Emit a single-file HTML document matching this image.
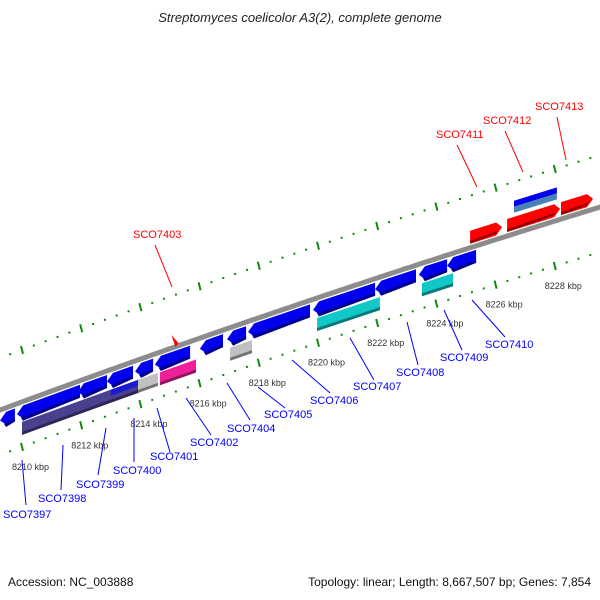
<!DOCTYPE html>
<html><head><meta charset="utf-8"><style>
body{margin:0;background:#fff}
svg{display:block;font-family:"Liberation Sans","DejaVu Sans",sans-serif}
</style></head><body>
<svg id="c" width="600" height="600" viewBox="0 0 600 600" xmlns="http://www.w3.org/2000/svg">
<text x="300" y="22" text-anchor="middle" font-size="13" font-style="italic" fill="#222">Streptomyces coelicolor A3(2), complete genome</text>
<text x="8" y="586" font-size="12" fill="#111">Accession: NC_003888</text>
<text x="591" y="586" text-anchor="end" font-size="12" fill="#111">Topology: linear; Length: 8,667,507 bp; Genes: 7,854</text>
</svg>
<script>
// gene data (kbp)
const geneStart=[8209.26,8209.83,8211.89,8212.87,8213.82,8214.49,8216.01,8216.93,8217.64,8219.83,8221.93,8223.41,8224.36,
 8210.0,8212.06,8213.04,8213.0,8213.92,8214.66,8217.03,8219.97,8223.51,
 8225.14,8226.39,8228.21,8226.62,8226.62];
const geneEnd=[8209.76,8211.96,8212.87,8213.75,8214.43,8215.68,8216.79,8217.57,8219.73,8221.93,8223.31,8224.36,8225.34,
 8212.06,8213.04,8213.99,8213.92,8214.59,8215.88,8217.77,8222.09,8224.56,
 8226.22,8228.18,8229.29,8228.07,8228.07];
const geneTrack=["r1","r1","r1","r1","r1","r1","r1","r1","r1","r1","r1","r1","r1",
 "r2","r2","r2","r2a","r2","r2","r2","r2","r2",
 "f1","f1","f1","f2a","f2b"];
const geneColor=["#0000ee","#0000ee","#0000ee","#0000ee","#0000ee","#0000ee","#0000ee","#0000ee","#0000ee","#0000ee","#0000ee","#0000ee","#0000ee",
 "#4a4090","#4a4090","#4a4090","#1a1ad0","#c0c0c0","#f0209a","#c0c0c0","#10c8c8","#10c8c8",
 "#ff0000","#ff0000","#ff0000","#0000ee","#4682b4"];
const tickLabels=[8210,8212,8214,8216,8218,8220,8222,8224,8226,8228];
const blueLabels=["SCO7397","SCO7398","SCO7399","SCO7400","SCO7401","SCO7402","SCO7404","SCO7405","SCO7406","SCO7407","SCO7408","SCO7409","SCO7410"];
const redLabels=["SCO7403","SCO7411","SCO7412","SCO7413"];
// label layout [textX, baseline, leaderX1, leaderY1, leaderX2, leaderY2]
const blueLayout=[[3,518,22,460,26,505],[38,502,63,445,61,490],[76,488,106,428,98,475],[113,474,134,418,134,462],
 [150,460,157,408,170,452],[190,446,186,398,211,435],[227,432,227,383,250,420],[264,418,258,387,285,408],
 [310,404,292,360,330,393],[353,390,350,338,374,380],[396,376,407,322,418,365],[440,361,444,310,462,350],[485,348,472,300,505,337]];
const redLayout=[[133,238,155,245,172,287],[436,138,457,145,477,187],[483,124,505,131,523,172],[535,110,557,117,566,160]];

const svg=document.getElementById('c');
const NS="http://www.w3.org/2000/svg";
function X(k){return 22+(k-8210)*29.6;}
function B(x){return 410-0.37*x+5.3e-5*x*x;}
function mk(t,a){const e=document.createElementNS(NS,t);for(const k in a)e.setAttribute(k,a[k]);svg.appendChild(e);return e;}
function shade(c,f){const n=parseInt(c.slice(1),16);let r=n>>16,g=(n>>8)&255,b=n&255;r=Math.round(r*f);g=Math.round(g*f);b=Math.round(b*f);return `rgb(${r},${g},${b})`;}

let d="";for(let x=-5;x<=605;x+=5){d+=(x===-5?"M":"L")+x+","+B(x).toFixed(1);}
const bb=mk('path',{d:d,stroke:"#8c8c8c","stroke-width":5,fill:"none"});



for(const off of [-52,45]){
 for(let i=-3;i<=55;i++){
  const k=8210+i*0.4, x=X(k); if(x<-2||x>602)continue;
  const y=B(x)+off;
  if(i%5===0){
   const t=mk('line',{x1:x-1,y1:y-4,x2:x+1,y2:y+4,stroke:"#118811","stroke-width":2});
   
   
  }else{
   const t=mk('rect',{x:x-1,y:y-1,width:2,height:2,fill:"#118811"});
   
   
  }
 }
}
tickLabels.forEach(k=>{
 const x=X(k),y=B(x)+45;
 const t=mk('text',{x:x-10,y:y+23,"font-size":9,fill:"#333"});t.textContent=k+" kbp";
 
 
});

const bands={r1:[4,17],r2:[20,33],r2a:[20,26],f1:[-17,-4],f2a:[-33,-27],f2b:[-27,-21]};
for(let i=0;i<geneStart.length;i++){
 const x1=X(geneStart[i]),x2=X(geneEnd[i]);const [t,b]=bands[geneTrack[i]];
 const m=(t+b)/2;let pts=[];
 const tr=geneTrack[i];
 if(tr==="r1"){
  const s=Math.min(6,(x2-x1)/2);
  pts=[[x1,B(x1)+m],[x1+s,B(x1+s)+t],[x2,B(x2)+t],[x2,B(x2)+b],[x1+s,B(x1+s)+b]];
 }else if(tr==="f1"){
  const s=Math.min(6,(x2-x1)/2);
  pts=[[x1,B(x1)+t],[x2-s,B(x2-s)+t],[x2,B(x2)+m],[x2-s,B(x2-s)+b],[x1,B(x1)+b]];
 }else{
  pts=[[x1,B(x1)+t],[x2,B(x2)+t],[x2,B(x2)+b],[x1,B(x1)+b]];
 }
 const g=mk('polygon',{points:pts.map(p=>p[0].toFixed(1)+","+p[1].toFixed(1)).join(" "),fill:geneColor[i]});
 
 
 if(b-t>8){
  const bt=b-3;
  const sp=[[x1+(tr==="r1"?4:0),B(x1)+bt],[x2-(tr==="f1"?4:0),B(x2)+bt],[x2-(tr==="f1"?6:0),B(x2)+b],[x1+(tr==="r1"?6:0),B(x1)+b]];
  const s=mk('polygon',{points:sp.map(p=>p[0].toFixed(1)+","+p[1].toFixed(1)).join(" "),fill:shade(geneColor[i],0.6)});
  
  
 }
}

const rx=X(8215.15),ry=B(rx)-4;
const mkr=mk('polygon',{points:`${rx-3},${ry-8} ${rx+4},${ry} ${rx+1},${ry+4}`,fill:"#ff0000"});



function lab(s,L,col){
 const l=mk('line',{x1:L[2],y1:L[3],x2:L[4],y2:L[5],stroke:col,"stroke-width":1});
 
 
 const t=mk('text',{x:L[0],y:L[1],"font-size":11,fill:col});t.textContent=s;
 
 
}
blueLabels.forEach((s,i)=>lab(s,blueLayout[i],"#0000ff"));
redLabels.forEach((s,i)=>lab(s,redLayout[i],"#ff0000"));
</script>
</body></html>
